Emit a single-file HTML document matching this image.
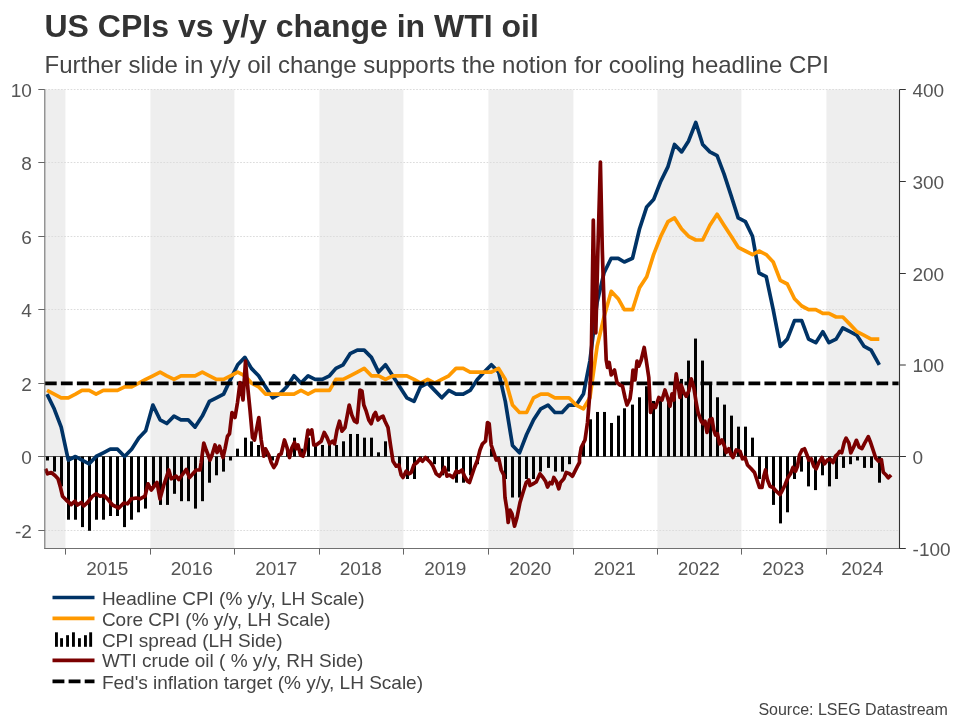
<!DOCTYPE html>
<html><head><meta charset="utf-8"><title>US CPIs vs y/y change in WTI oil</title>
<style>
html,body{margin:0;padding:0;background:#fff;}
body{width:960px;height:720px;overflow:hidden;font-family:"Liberation Sans",sans-serif;}
svg{display:block;will-change:transform}
text{font-family:"Liberation Sans",sans-serif;fill:#444}
.ax{font-size:19px;fill:#555}
.lg{font-size:19px;fill:#444}
</style></head><body>
<svg width="960" height="720" viewBox="0 0 960 720">
<rect width="960" height="720" fill="#fff"/>
<text x="44.5" y="36.6" style="font-size:32px;font-weight:bold;fill:#333">US CPIs vs y/y change in WTI oil</text>
<text x="44.5" y="73" style="font-size:24px;fill:#444">Further slide in y/y oil change supports the notion for cooling headline CPI</text>
<rect x="45.0" y="89.5" width="20.4" height="459" fill="#eeeeee"/><rect x="150.4" y="89.5" width="84.0" height="459" fill="#eeeeee"/><rect x="319.4" y="89.5" width="84.0" height="459" fill="#eeeeee"/><rect x="488.4" y="89.5" width="85.0" height="459" fill="#eeeeee"/><rect x="657.4" y="89.5" width="84.0" height="459" fill="#eeeeee"/><rect x="826.4" y="89.5" width="73.1" height="459" fill="#eeeeee"/>
<line x1="45" x2="899" y1="89.5" y2="89.5" stroke="#dcdcdc" stroke-width="1" stroke-dasharray="1.7 1.5"/><line x1="45" x2="899" y1="162.5" y2="162.5" stroke="#dcdcdc" stroke-width="1" stroke-dasharray="1.7 1.5"/><line x1="45" x2="899" y1="236.5" y2="236.5" stroke="#dcdcdc" stroke-width="1" stroke-dasharray="1.7 1.5"/><line x1="45" x2="899" y1="309.5" y2="309.5" stroke="#dcdcdc" stroke-width="1" stroke-dasharray="1.7 1.5"/><line x1="45" x2="899" y1="530.5" y2="530.5" stroke="#dcdcdc" stroke-width="1" stroke-dasharray="1.7 1.5"/>
<line x1="38.3" x2="905.8" y1="456.5" y2="456.5" stroke="#444" stroke-width="0.9"/>
<g fill="#000"><rect x="46" y="456.50" width="3" height="4.00"/><rect x="53" y="456.50" width="3" height="15.10"/><rect x="60" y="456.50" width="3" height="29.90"/><rect x="67" y="456.50" width="3" height="63.20"/><rect x="74" y="456.50" width="3" height="63.20"/><rect x="81" y="456.50" width="3" height="70.60"/><rect x="88" y="456.50" width="3" height="74.30"/><rect x="95" y="456.50" width="3" height="63.20"/><rect x="102" y="456.50" width="3" height="63.20"/><rect x="109" y="456.50" width="3" height="59.50"/><rect x="116" y="456.50" width="3" height="59.50"/><rect x="123" y="456.50" width="3" height="70.60"/><rect x="130" y="456.50" width="3" height="63.20"/><rect x="137" y="456.50" width="3" height="55.80"/><rect x="144" y="456.50" width="3" height="52.10"/><rect x="152" y="456.50" width="3" height="29.90"/><rect x="159" y="456.50" width="3" height="48.40"/><rect x="166" y="456.50" width="3" height="48.40"/><rect x="173" y="456.50" width="3" height="37.30"/><rect x="180" y="456.50" width="3" height="44.70"/><rect x="187" y="456.50" width="3" height="44.70"/><rect x="194" y="456.50" width="3" height="52.10"/><rect x="201" y="456.50" width="3" height="44.70"/><rect x="208" y="456.50" width="3" height="26.20"/><rect x="215" y="456.50" width="3" height="18.80"/><rect x="222" y="456.50" width="3" height="15.10"/><rect x="229" y="456.50" width="3" height="4.00"/><rect x="236" y="448.66" width="3" height="7.84"/><rect x="244" y="437.65" width="3" height="18.85"/><rect x="250" y="441.32" width="3" height="15.18"/><rect x="257" y="444.99" width="3" height="11.51"/><rect x="264" y="448.66" width="3" height="7.84"/><rect x="271" y="456.50" width="3" height="4.00"/><rect x="286" y="448.66" width="3" height="7.84"/><rect x="293" y="437.65" width="3" height="18.85"/><rect x="300" y="448.66" width="3" height="7.84"/><rect x="307" y="437.65" width="3" height="18.85"/><rect x="314" y="444.99" width="3" height="11.51"/><rect x="321" y="444.99" width="3" height="11.51"/><rect x="328" y="441.32" width="3" height="15.18"/><rect x="335" y="444.99" width="3" height="11.51"/><rect x="342" y="441.32" width="3" height="15.18"/><rect x="349" y="433.98" width="3" height="22.52"/><rect x="356" y="433.98" width="3" height="22.52"/><rect x="363" y="437.65" width="3" height="18.85"/><rect x="370" y="437.65" width="3" height="18.85"/><rect x="377" y="452.33" width="3" height="4.17"/><rect x="384" y="441.32" width="3" height="15.18"/><rect x="398" y="456.50" width="3" height="11.40"/><rect x="406" y="456.50" width="3" height="22.50"/><rect x="413" y="456.50" width="3" height="22.50"/><rect x="419" y="456.50" width="3" height="4.00"/><rect x="426" y="456.50" width="3" height="4.00"/><rect x="433" y="456.50" width="3" height="7.70"/><rect x="441" y="456.50" width="3" height="18.80"/><rect x="447" y="456.50" width="3" height="15.10"/><rect x="455" y="456.50" width="3" height="26.20"/><rect x="462" y="456.50" width="3" height="26.20"/><rect x="469" y="456.50" width="3" height="18.80"/><rect x="476" y="456.50" width="3" height="7.70"/><rect x="490" y="448.66" width="3" height="7.84"/><rect x="497" y="456.50" width="3" height="4.00"/><rect x="504" y="456.50" width="3" height="22.50"/><rect x="511" y="456.50" width="3" height="41.00"/><rect x="518" y="456.50" width="3" height="41.00"/><rect x="525" y="456.50" width="3" height="22.50"/><rect x="532" y="456.50" width="3" height="22.50"/><rect x="539" y="456.50" width="3" height="15.10"/><rect x="547" y="456.50" width="3" height="11.40"/><rect x="554" y="456.50" width="3" height="15.10"/><rect x="561" y="456.50" width="3" height="15.10"/><rect x="568" y="456.50" width="3" height="7.70"/><rect x="582" y="441.32" width="3" height="15.18"/><rect x="589" y="419.30" width="3" height="37.20"/><rect x="596" y="411.96" width="3" height="44.54"/><rect x="603" y="411.96" width="3" height="44.54"/><rect x="610" y="422.97" width="3" height="33.53"/><rect x="617" y="415.63" width="3" height="40.87"/><rect x="623" y="408.29" width="3" height="48.21"/><rect x="631" y="404.62" width="3" height="51.88"/><rect x="638" y="397.28" width="3" height="59.22"/><rect x="645" y="386.27" width="3" height="70.23"/><rect x="652" y="400.95" width="3" height="55.55"/><rect x="659" y="400.95" width="3" height="55.55"/><rect x="667" y="400.95" width="3" height="55.55"/><rect x="673" y="382.60" width="3" height="73.90"/><rect x="680" y="378.93" width="3" height="77.57"/><rect x="687" y="360.58" width="3" height="95.92"/><rect x="694" y="338.56" width="3" height="117.94"/><rect x="701" y="360.58" width="3" height="95.92"/><rect x="709" y="382.60" width="3" height="73.90"/><rect x="716" y="397.28" width="3" height="59.22"/><rect x="723" y="404.62" width="3" height="51.88"/><rect x="730" y="415.63" width="3" height="40.87"/><rect x="737" y="426.64" width="3" height="29.86"/><rect x="744" y="426.64" width="3" height="29.86"/><rect x="751" y="437.65" width="3" height="18.85"/><rect x="758" y="456.50" width="3" height="22.50"/><rect x="765" y="456.50" width="3" height="22.50"/><rect x="772" y="456.50" width="3" height="48.40"/><rect x="779" y="456.50" width="3" height="66.90"/><rect x="786" y="456.50" width="3" height="55.80"/><rect x="793" y="456.50" width="3" height="22.50"/><rect x="800" y="456.50" width="3" height="15.10"/><rect x="807" y="456.50" width="3" height="29.90"/><rect x="814" y="456.50" width="3" height="33.60"/><rect x="821" y="456.50" width="3" height="18.80"/><rect x="828" y="456.50" width="3" height="29.90"/><rect x="835" y="456.50" width="3" height="22.50"/><rect x="842" y="456.50" width="3" height="11.40"/><rect x="849" y="456.50" width="3" height="7.70"/><rect x="856" y="456.50" width="3" height="4.00"/><rect x="863" y="456.50" width="3" height="11.40"/><rect x="870" y="456.50" width="3" height="11.40"/><rect x="878" y="456.50" width="3" height="26.20"/></g>
<path d="M47.0,394.1 L54.2,408.8 L61.2,427.1 L68.3,460.2 L75.5,456.5 L82.0,460.2 L89.2,463.8 L96.1,456.5 L103.3,452.8 L110.3,449.2 L117.5,449.2 L124.6,456.5 L131.6,449.2 L138.8,438.1 L145.7,430.8 L152.9,405.1 L160.1,419.8 L166.8,423.5 L174.0,416.1 L180.9,419.8 L188.1,419.8 L195.1,427.1 L202.3,416.1 L209.4,401.4 L216.4,397.8 L223.6,394.1 L230.5,379.4 L237.7,364.8 L244.9,357.4 L251.4,368.4 L258.6,375.8 L265.5,386.8 L272.7,397.8 L279.6,394.1 L286.8,386.8 L294.0,375.8 L301.0,383.1 L308.1,375.8 L315.1,379.4 L322.3,379.4 L329.5,375.8 L335.9,368.4 L343.1,364.8 L350.1,353.7 L357.3,350.1 L364.2,350.1 L371.4,357.4 L378.6,372.1 L385.5,364.8 L392.7,375.8 L399.7,386.8 L406.8,397.8 L414.0,401.4 L420.5,386.8 L427.7,383.1 L434.7,390.4 L441.8,397.8 L448.8,390.4 L456.0,394.1 L463.2,394.1 L470.1,390.4 L477.3,379.4 L484.2,372.1 L491.4,364.8 L498.6,372.1 L505.3,401.4 L512.5,445.5 L519.5,452.8 L526.6,434.5 L533.6,419.8 L540.8,408.8 L548.0,405.1 L554.9,412.5 L562.1,412.5 L569.0,405.1 L576.2,405.1 L583.4,394.1 L589.9,361.1 L597.1,302.4 L604.0,273.0 L611.2,258.3 L618.2,258.3 L624.3,262.0 L632.5,258.3 L639.5,229.0 L646.7,206.9 L653.6,199.6 L660.8,181.2 L668.0,166.6 L674.5,144.5 L681.6,151.9 L688.6,140.9 L695.8,122.5 L702.7,144.5 L709.9,151.9 L717.1,155.6 L724.0,173.9 L731.2,195.9 L738.2,217.9 L745.4,221.6 L752.5,236.3 L759.0,273.0 L766.2,276.7 L773.2,309.7 L780.3,346.4 L787.3,339.1 L794.5,320.7 L801.7,320.7 L808.6,339.1 L815.8,342.7 L822.8,331.7 L828.9,342.7 L836.1,339.1 L842.8,328.0 L850.0,331.7 L857.0,335.4 L864.2,346.4 L871.1,350.1 L879.3,364.8" fill="none" stroke="#003366" stroke-width="3.7" stroke-linejoin="round" stroke-linecap="butt"/>
<path d="M47.0,390.4 L54.2,394.1 L61.2,397.8 L68.3,397.8 L75.5,394.1 L82.0,390.4 L89.2,390.4 L96.1,394.1 L103.3,390.4 L110.3,390.4 L117.5,390.4 L124.6,386.8 L131.6,386.8 L138.8,383.1 L145.7,379.4 L152.9,375.8 L160.1,372.1 L166.8,375.8 L174.0,379.4 L180.9,375.8 L188.1,375.8 L195.1,375.8 L202.3,372.1 L209.4,375.8 L216.4,379.4 L223.6,379.4 L230.5,375.8 L237.7,372.1 L244.9,375.8 L251.4,383.1 L258.6,386.8 L265.5,394.1 L272.7,394.1 L279.6,394.1 L286.8,394.1 L294.0,394.1 L301.0,390.4 L308.1,394.1 L315.1,390.4 L322.3,390.4 L329.5,390.4 L335.9,379.4 L343.1,379.4 L350.1,375.8 L357.3,372.1 L364.2,368.4 L371.4,375.8 L378.6,375.8 L385.5,379.4 L392.7,375.8 L399.7,375.8 L406.8,375.8 L414.0,379.4 L420.5,383.1 L427.7,379.4 L434.7,383.1 L441.8,379.4 L448.8,375.8 L456.0,368.4 L463.2,368.4 L470.1,372.1 L477.3,372.1 L484.2,372.1 L491.4,372.1 L498.6,368.4 L505.3,379.4 L512.5,405.1 L519.5,412.5 L526.6,412.5 L533.6,397.8 L540.8,394.1 L548.0,394.1 L554.9,397.8 L562.1,397.8 L569.0,397.8 L576.2,405.1 L583.4,408.8 L589.9,397.8 L597.1,346.4 L604.0,317.0 L611.2,291.4 L618.2,298.7 L624.3,309.7 L632.5,309.7 L639.5,287.7 L646.7,276.7 L653.6,254.6 L660.8,236.3 L668.0,221.6 L674.5,217.9 L681.6,229.0 L688.6,236.3 L695.8,240.0 L702.7,240.0 L709.9,225.3 L717.1,214.3 L724.0,225.3 L731.2,236.3 L738.2,247.3 L745.4,251.0 L752.5,254.6 L759.0,251.0 L766.2,254.6 L773.2,262.0 L780.3,280.3 L787.3,284.0 L794.5,298.7 L801.7,306.0 L808.6,309.7 L815.8,309.7 L822.8,313.4 L828.9,313.4 L836.1,317.0 L842.8,317.0 L850.0,324.4 L857.0,331.7 L864.2,335.4 L871.1,339.1 L879.3,339.1" fill="none" stroke="#ff9900" stroke-width="3.7" stroke-linejoin="round" stroke-linecap="butt"/>
<line x1="44.9" x2="898.6" y1="383.4" y2="383.4" stroke="#000" stroke-width="3.7" stroke-dasharray="11.8 4.19"/>
<path d="M45.5,468.8 L47.5,473.8 L51.2,472.5 L55.0,475.5 L58.0,478.8 L60.5,487.5 L62.5,496.2 L66.2,500.0 L71.2,504.5 L75.0,501.2 L77.5,505.0 L81.2,502.5 L83.8,505.8 L87.5,502.5 L92.5,496.2 L96.2,493.8 L100.0,496.2 L103.8,495.5 L107.5,498.8 L112.5,505.0 L118.8,508.0 L123.8,503.0 L127.5,503.8 L131.2,498.8 L136.2,498.0 L140.0,498.8 L145.0,496.2 L148.0,483.8 L151.2,490.0 L157.0,482.5 L160.0,498.8 L163.8,485.0 L168.8,470.0 L171.2,478.8 L176.2,476.2 L178.8,479.5 L186.2,469.5 L189.5,477.5 L196.2,470.0 L200.0,470.0 L201.2,462.5 L203.8,443.0 L206.2,450.0 L210.0,460.0 L212.0,455.0 L215.0,445.0 L217.0,452.5 L219.5,446.2 L223.0,457.5 L225.0,448.8 L227.5,436.2 L229.5,433.8 L232.0,412.5 L235.0,417.5 L237.5,402.5 L240.0,382.5 L243.0,400.0 L245.5,361.2 L248.0,390.0 L250.0,410.0 L252.5,437.5 L254.5,440.0 L258.8,417.5 L261.2,440.0 L263.8,456.2 L265.5,448.8 L268.8,455.0 L271.2,462.5 L273.8,467.5 L276.2,463.8 L278.8,455.0 L281.2,453.8 L284.5,440.0 L287.0,447.5 L289.5,457.5 L292.0,447.5 L294.5,442.5 L296.2,448.8 L298.0,445.0 L300.5,455.0 L303.0,456.2 L305.0,450.0 L308.0,430.0 L310.0,433.8 L311.8,430.0 L313.8,445.0 L316.2,445.0 L321.2,441.2 L324.2,432.5 L327.0,437.5 L329.5,443.8 L332.5,441.2 L334.5,443.8 L337.0,430.0 L339.5,421.2 L342.0,431.2 L345.0,427.5 L349.2,405.0 L351.8,415.0 L354.5,421.2 L357.0,422.5 L360.0,390.0 L362.0,391.2 L363.8,405.0 L366.2,411.2 L368.8,420.0 L371.2,423.8 L373.8,415.0 L375.5,412.5 L378.0,420.0 L380.5,417.5 L383.0,416.2 L385.0,421.2 L388.0,427.5 L390.5,445.0 L393.0,461.2 L396.2,466.2 L398.8,465.0 L401.2,475.0 L403.0,477.5 L406.2,471.2 L408.8,473.8 L411.2,472.5 L413.8,465.0 L417.0,462.5 L420.0,458.8 L422.5,461.2 L425.5,457.5 L428.0,460.0 L430.5,462.5 L433.0,466.2 L436.2,473.8 L439.5,476.2 L442.0,472.5 L444.5,467.5 L447.0,476.2 L449.5,475.0 L453.0,477.5 L456.2,471.2 L458.8,472.5 L462.0,470.0 L464.5,476.2 L467.5,481.2 L469.5,482.5 L472.0,475.0 L474.5,467.5 L477.5,460.0 L480.0,450.0 L482.5,443.8 L485.5,441.2 L487.5,422.5 L489.2,423.8 L491.2,445.0 L493.8,452.5 L496.2,460.0 L498.8,458.8 L501.2,470.0 L503.8,475.0 L505.0,497.5 L507.0,510.0 L508.2,522.5 L510.0,510.0 L512.0,513.8 L514.5,526.2 L517.0,517.5 L520.0,502.5 L523.0,492.5 L526.2,482.5 L528.8,480.0 L530.0,485.5 L533.0,483.8 L536.2,482.0 L540.0,473.8 L543.0,477.5 L545.5,481.2 L547.5,487.0 L550.0,482.5 L552.0,483.8 L553.8,477.5 L556.2,481.2 L558.8,488.8 L560.5,482.5 L563.8,478.8 L566.2,472.5 L569.5,473.8 L572.5,476.2 L575.0,471.2 L577.5,466.2 L579.5,462.5 L579.5,457.5 L581.2,447.5 L585.0,440.0 L587.5,422.5 L589.5,397.5 L591.2,365.0 L592.3,290.0 L593.3,220.0 L594.3,270.0 L595.8,333.0 L597.9,250.0 L600.4,162.0 L602.3,250.0 L604.2,310.0 L605.6,345.0 L606.2,360.0 L607.5,367.5 L609.2,362.5 L611.2,375.0 L614.5,370.0 L617.0,382.5 L620.0,385.0 L622.5,386.2 L625.0,397.5 L627.0,405.0 L630.0,398.8 L631.2,390.0 L633.0,370.0 L635.0,380.0 L637.0,361.2 L638.8,366.2 L641.2,360.0 L644.2,347.5 L646.2,360.0 L648.8,377.5 L650.5,412.5 L653.0,405.0 L655.5,407.5 L658.8,397.5 L662.0,400.0 L665.0,390.0 L667.5,397.5 L670.0,406.2 L672.0,393.8 L673.8,400.0 L676.2,373.8 L678.0,385.0 L680.0,397.5 L681.2,385.0 L683.8,392.5 L686.2,396.2 L688.8,391.2 L691.2,378.8 L693.8,387.5 L696.2,402.5 L698.0,412.5 L701.2,421.2 L703.0,423.8 L705.0,421.2 L707.0,432.5 L709.5,420.0 L712.0,418.8 L713.8,430.0 L715.5,435.0 L717.5,433.8 L719.5,443.8 L722.0,440.0 L724.5,446.2 L726.2,452.5 L728.8,448.8 L731.2,455.0 L733.0,457.5 L736.2,450.0 L740.0,451.2 L742.5,458.8 L745.0,457.5 L747.5,465.0 L751.2,468.8 L754.5,472.5 L757.0,480.0 L759.5,487.5 L762.0,487.5 L763.8,476.2 L765.5,470.0 L767.5,480.0 L770.0,486.2 L773.0,487.5 L776.2,491.2 L780.0,494.5 L782.5,490.0 L785.0,485.0 L788.0,477.5 L790.5,473.8 L793.0,467.5 L795.5,471.2 L797.5,466.2 L799.5,455.0 L802.0,450.0 L804.5,448.8 L807.0,455.0 L808.8,460.0 L811.2,458.8 L813.8,466.2 L816.2,468.8 L818.8,462.5 L822.0,457.5 L824.5,463.8 L827.5,460.0 L830.0,458.8 L833.0,462.5 L835.5,456.2 L838.0,453.8 L839.7,451.4 L841.7,452.8 L844.4,441.7 L846.1,438.1 L848.9,443.1 L850.8,452.8 L853.6,447.2 L856.4,440.3 L859.2,447.2 L861.9,448.6 L864.7,443.1 L868.3,436.7 L870.3,441.7 L873.1,450.0 L875.8,458.3 L878.6,461.1 L881.4,459.7 L883.3,472.2 L886.1,475.0 L888.3,477.8 L891.1,475.0" fill="none" stroke="#7b0000" stroke-width="3.7" stroke-linejoin="round" stroke-linecap="butt"/>
<line x1="44.8" x2="44.8" y1="89.5" y2="549" stroke="#707070" stroke-width="1.1"/>
<line x1="899.5" x2="899.5" y1="89.5" y2="549" stroke="#333" stroke-width="1.1"/>
<line x1="44.3" x2="899.5" y1="548.5" y2="548.5" stroke="#707070" stroke-width="1.1"/>
<line x1="38.3" x2="44.8" y1="89.5" y2="89.5" stroke="#666" stroke-width="1"/><line x1="38.3" x2="44.8" y1="162.5" y2="162.5" stroke="#666" stroke-width="1"/><line x1="38.3" x2="44.8" y1="236.5" y2="236.5" stroke="#666" stroke-width="1"/><line x1="38.3" x2="44.8" y1="309.5" y2="309.5" stroke="#666" stroke-width="1"/><line x1="38.3" x2="44.8" y1="383.5" y2="383.5" stroke="#666" stroke-width="1"/><line x1="38.3" x2="44.8" y1="456.5" y2="456.5" stroke="#666" stroke-width="1"/><line x1="38.3" x2="44.8" y1="530.5" y2="530.5" stroke="#666" stroke-width="1"/><line x1="899.5" x2="905.8" y1="89.5" y2="89.5" stroke="#333" stroke-width="1"/><line x1="899.5" x2="905.8" y1="181.5" y2="181.5" stroke="#333" stroke-width="1"/><line x1="899.5" x2="905.8" y1="273.5" y2="273.5" stroke="#333" stroke-width="1"/><line x1="899.5" x2="905.8" y1="365.0" y2="365.0" stroke="#333" stroke-width="1"/><line x1="899.5" x2="905.8" y1="456.5" y2="456.5" stroke="#333" stroke-width="1"/><line x1="899.5" x2="905.8" y1="548.5" y2="548.5" stroke="#333" stroke-width="1"/><line x1="65.5" x2="65.5" y1="548.5" y2="554.6" stroke="#666" stroke-width="1"/><line x1="150.5" x2="150.5" y1="548.5" y2="554.6" stroke="#666" stroke-width="1"/><line x1="234.5" x2="234.5" y1="548.5" y2="554.6" stroke="#666" stroke-width="1"/><line x1="319.5" x2="319.5" y1="548.5" y2="554.6" stroke="#666" stroke-width="1"/><line x1="403.5" x2="403.5" y1="548.5" y2="554.6" stroke="#666" stroke-width="1"/><line x1="488.5" x2="488.5" y1="548.5" y2="554.6" stroke="#666" stroke-width="1"/><line x1="573.5" x2="573.5" y1="548.5" y2="554.6" stroke="#666" stroke-width="1"/><line x1="657.5" x2="657.5" y1="548.5" y2="554.6" stroke="#666" stroke-width="1"/><line x1="741.5" x2="741.5" y1="548.5" y2="554.6" stroke="#666" stroke-width="1"/><line x1="826.5" x2="826.5" y1="548.5" y2="554.6" stroke="#666" stroke-width="1"/>
<text x="31.8" y="96.8" text-anchor="end" class="ax">10</text><text x="31.8" y="169.8" text-anchor="end" class="ax">8</text><text x="31.8" y="243.8" text-anchor="end" class="ax">6</text><text x="31.8" y="316.8" text-anchor="end" class="ax">4</text><text x="31.8" y="390.8" text-anchor="end" class="ax">2</text><text x="31.8" y="463.8" text-anchor="end" class="ax">0</text><text x="31.8" y="537.8" text-anchor="end" class="ax">-2</text><text x="912.4" y="96.8" class="ax">400</text><text x="912.4" y="188.8" class="ax">300</text><text x="912.4" y="280.8" class="ax">200</text><text x="912.4" y="372.3" class="ax">100</text><text x="912.4" y="463.8" class="ax">0</text><text x="912.6" y="555.8" class="ax">-100</text><text x="107.3" y="575.3" text-anchor="middle" class="ax">2015</text><text x="191.8" y="575.3" text-anchor="middle" class="ax">2016</text><text x="276.3" y="575.3" text-anchor="middle" class="ax">2017</text><text x="360.8" y="575.3" text-anchor="middle" class="ax">2018</text><text x="445.3" y="575.3" text-anchor="middle" class="ax">2019</text><text x="530.3" y="575.3" text-anchor="middle" class="ax">2020</text><text x="614.8" y="575.3" text-anchor="middle" class="ax">2021</text><text x="698.8" y="575.3" text-anchor="middle" class="ax">2022</text><text x="783.3" y="575.3" text-anchor="middle" class="ax">2023</text><text x="862.3" y="575.3" text-anchor="middle" class="ax">2024</text>
<g>
<line x1="52.5" x2="94.5" y1="597.5" y2="597.5" stroke="#003366" stroke-width="3.6"/>
<text x="101.9" y="604.6" class="lg">Headline CPI (% y/y, LH Scale)</text>
<line x1="52.5" x2="94.5" y1="618.4" y2="618.4" stroke="#ff9900" stroke-width="3.6"/>
<text x="101.9" y="625.5" class="lg">Core CPI (% y/y, LH Scale)</text>
<g fill="#000"><rect x="55" y="632.3" width="2.9" height="14.5"/><rect x="60.1" y="638.2" width="2.9" height="8.6"/><rect x="66.1" y="635.2" width="2.9" height="11.6"/><rect x="72" y="632.3" width="2.9" height="14.5"/><rect x="78" y="638.2" width="2.9" height="8.6"/><rect x="84" y="635.2" width="2.9" height="11.6"/><rect x="89.2" y="632.3" width="2.9" height="14.5"/></g>
<text x="101.9" y="646.5" class="lg">CPI spread (LH Side)</text>
<line x1="52.5" x2="94.5" y1="660.4" y2="660.4" stroke="#7b0000" stroke-width="3.6"/>
<text x="101.9" y="667.4" class="lg">WTI crude oil ( % y/y, RH Side)</text>
<line x1="52.5" x2="94.5" y1="681.3" y2="681.3" stroke="#000" stroke-width="3.7" stroke-dasharray="11.9 4.2"/>
<text x="101.9" y="688.5" class="lg">Fed's inflation target (% y/y, LH Scale)</text>
</g>
<text x="947.8" y="714.8" text-anchor="end" style="font-size:16px;fill:#444">Source: LSEG Datastream</text>
</svg>
</body></html>
